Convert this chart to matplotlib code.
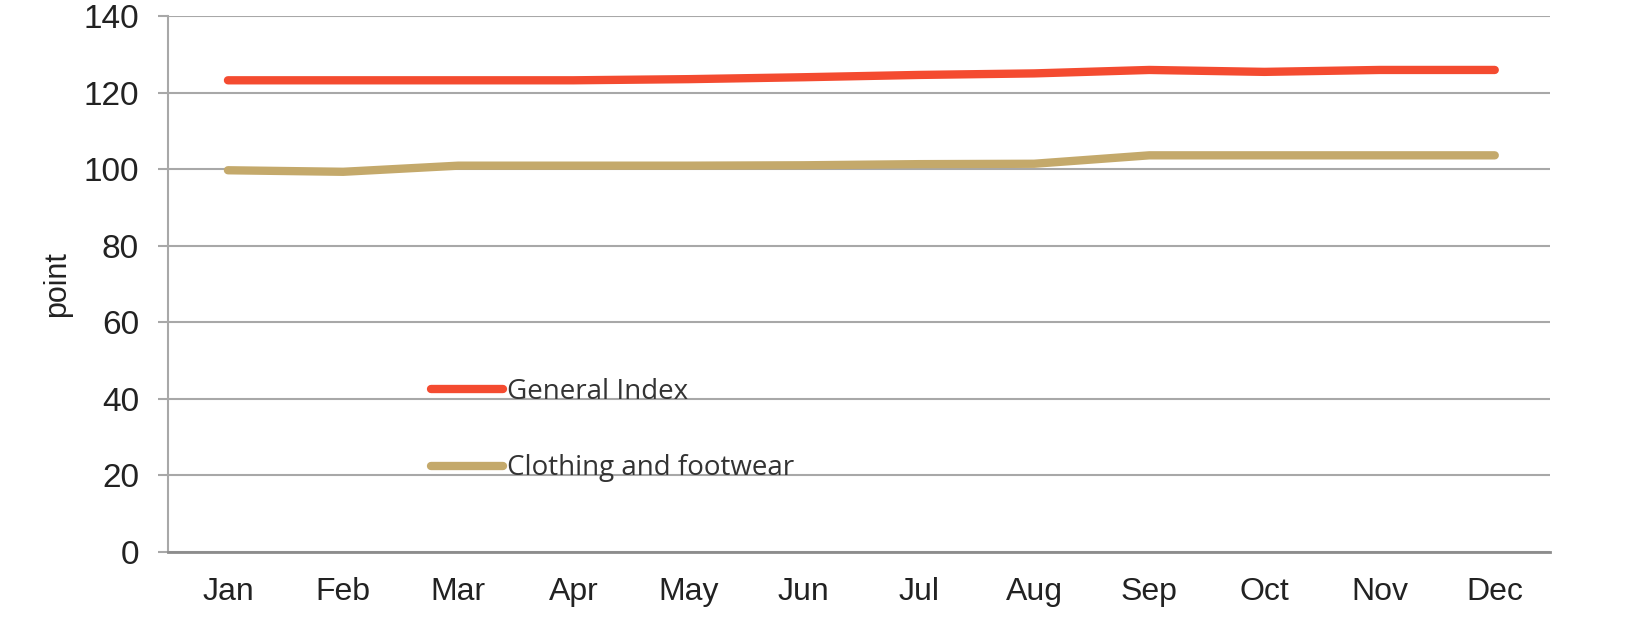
import numpy as np
import matplotlib.pyplot as plt

# monthly index values
months = ["Jan", "Feb", "Mar", "Apr", "May", "Jun", "Jul", "Aug", "Sep", "Oct", "Nov", "Dec"]
general_index = [123.2, 123.2, 123.2, 123.2, 123.5, 124.0, 124.6, 125.0, 125.9, 125.4, 125.9, 125.9]
clothing = [99.7, 99.3, 100.9, 100.9, 100.9, 101.0, 101.3, 101.4, 103.6, 103.6, 103.6, 103.6]
y_ticks = [0, 20, 40, 60, 80, 100, 120, 140]

red = "#F44B30"
tan = "#C4A96B"
grid_grey = "#A8A8A8"

fig = plt.figure(figsize=(16.27, 6.39), dpi=100)
ax = fig.add_axes([0.1033, 0.1362, 0.8494, 0.8388])

x = np.arange(len(months))
ax.plot(x, general_index, color=red, lw=6, solid_capstyle="round", solid_joinstyle="round",
        label="General Index", zorder=3)
ax.plot(x, clothing, color=tan, lw=6, solid_capstyle="round", solid_joinstyle="round",
        label="Clothing and footwear", zorder=3)

ax.set_xlim(-0.52, 11.48)
ax.set_ylim(0, 140)
ax.set_yticks(y_ticks)
ax.set_xticks(x)
ax.set_xticklabels(months, family="Liberation Sans", fontsize=23)
ax.set_yticklabels([str(v) for v in y_ticks], family="Liberation Sans", fontsize=24)
ax.tick_params(axis="x", length=0, pad=18, colors="#222222")
ax.tick_params(axis="y", length=7, width=1.5, color=grid_grey, pad=14, labelcolor="#222222")

ax.grid(axis="y", color=grid_grey, lw=1.5, zorder=0)
for side in ["top", "right"]:
    ax.spines[side].set_visible(False)
ax.spines["left"].set_color(grid_grey)
ax.spines["left"].set_linewidth(1.5)
ax.spines["bottom"].set_color("#8C8C8C")
ax.spines["bottom"].set_linewidth(2)

ax.set_ylabel("point", family="Liberation Sans", fontsize=22, labelpad=8, color="#222222")

leg = ax.legend(loc="upper left", bbox_to_anchor=(0.19, 0.325), frameon=False,
                prop={"family": "Open Sans", "size": 20}, handlelength=2.6,
                handletextpad=0.15, labelspacing=1.75, borderpad=0, borderaxespad=0)
for line in leg.get_lines():
    line.set_linewidth(6)
    line.set_solid_capstyle("round")
for t in leg.get_texts():
    t.set_color("#333333")

fig.savefig("out.png", dpi=100)
